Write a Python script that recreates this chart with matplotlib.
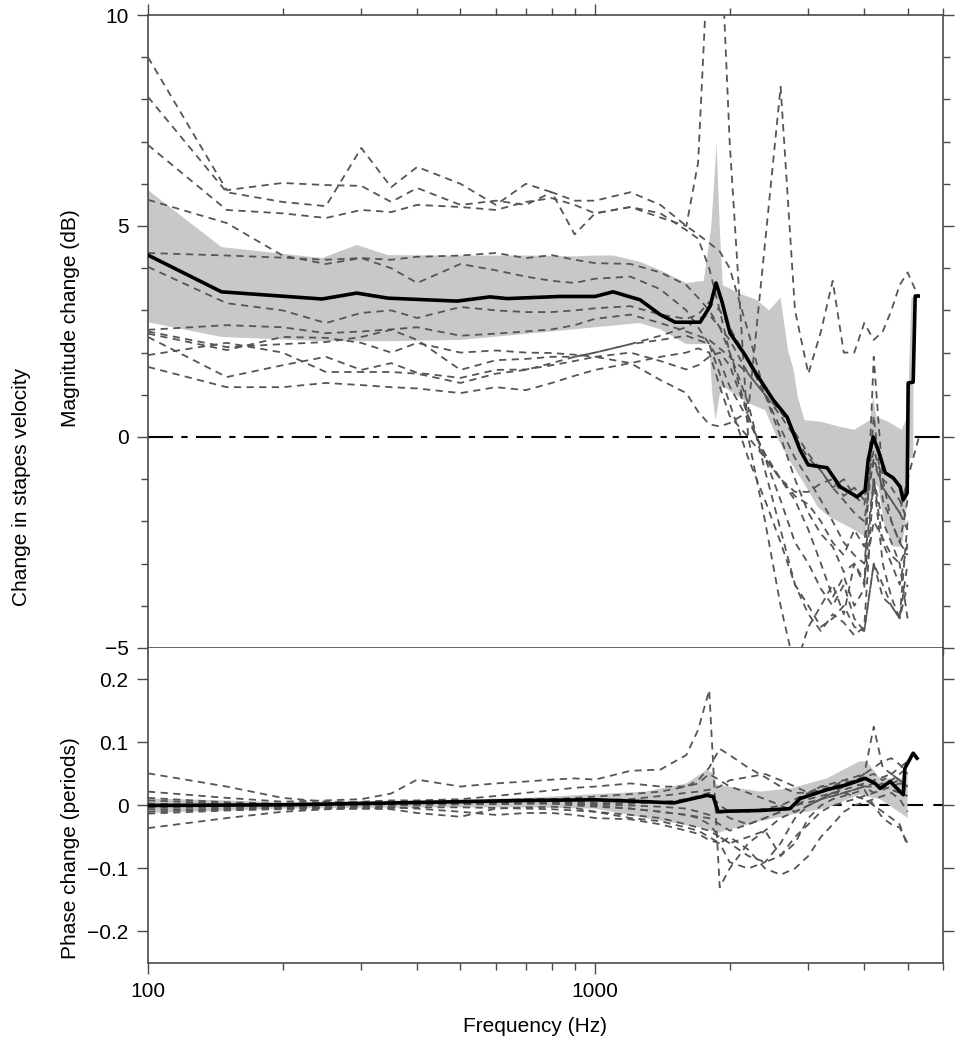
import matplotlib
matplotlib.use("Agg")
import matplotlib.pyplot as plt
import numpy as np
from matplotlib.ticker import FixedLocator, NullFormatter, FuncFormatter

plt.rcParams['font.family'] = ['Liberation Sans', 'DejaVu Sans']
plt.rcParams['font.size'] = 15

# frequency grid of the individual ears (Hz)
freq = [100, 150, 200, 250, 300, 350, 400, 500, 600, 700, 800, 900, 1000, 1200,
        1400, 1600, 1700, 1800, 1900, 2000, 2200, 2400, 2600, 2800, 3000, 3200,
        3400, 3600, 3800, 4000, 4200, 4400, 4600, 4800, 5000, 5300]
nan = np.nan

# magnitude change of each ear (dB)
mag_a = [9.0, 5.85, 6.02, 5.97, 5.95, 5.57, 5.9, 5.5, 5.6, 5.5, 5.8, 5.6, 5.6, 5.8, 5.5, 5.0, 4.8, 4.6,
         4.4, 4.0, 2.5, 1.0, 0.0, -1.0, -1.8, -2.3, -2.6, -3.2, -3.0, -3.4, -2.0, -2.4, -2.8, -3.0, -2.6, nan]
mag_b = [8.06, 5.8, 5.57, 5.47, 6.85, 5.92, 6.4, 6.0, 5.5, 6.0, 5.8, 4.8, 5.3, 5.45, 5.2, 5.0, 6.5, 12.0,
         12.5, 7.0, 0.0, -2.0, -4.0, -5.5, -4.5, -4.0, -3.5, -4.2, -3.0, -3.5, -1.0, -2.5, -3.0, -3.5, -2.5, nan]
mag_c = [6.92, 5.38, 5.3, 5.19, 5.38, 5.33, 5.5, 5.45, 5.38, 5.57, 5.66, 5.5, 5.3, 5.45, 5.3, 4.9, 4.7, 4.0,
         3.0, 2.0, 0.5, -0.5, -1.5, -2.5, -3.0, -3.6, -4.0, -3.5, -4.3, -4.6, -3.0, -3.8, -4.0, -4.3, -2.0, nan]
mag_d = [5.62, 5.07, 4.3, 4.1, 4.24, 4.0, 3.65, 4.1, 3.95, 3.8, 3.7, 3.65, 3.75, 3.8, 3.5, 3.0, 2.6, 2.2,
         1.8, 1.2, 0.4, -0.4, -1.0, -1.5, -2.2, -3.0, -3.8, -3.3, -4.0, -3.6, 1.9, -1.0, -2.0, -2.5, -1.5, nan]
mag_e = [4.36, 4.3, 4.25, 4.2, 4.24, 4.2, 4.27, 4.3, 4.36, 4.24, 4.31, 4.2, 4.12, 4.1, 3.9, 3.6, 3.3, 3.0,
         2.6, 2.3, 1.5, 1.0, 0.5, 0.0, -0.5, -0.8, -1.2, -1.5, -1.8, -2.0, -0.5, -1.2, -1.5, -1.8, -1.0, 0.0]
mag_f = [4.03, 3.17, 3.0, 2.7, 2.94, 3.0, 2.82, 3.08, 3.0, 2.96, 2.96, 3.0, 3.05, 3.1, 2.9, 2.8, 2.9, 3.2,
         3.0, 2.6, 1.8, 1.0, 0.2, -0.5, -1.0, -1.5, -2.0, -2.5, -2.8, -3.0, -1.0, -2.0, -2.5, -3.0, -4.3, nan]
mag_g = [2.54, 2.65, 2.6, 2.46, 2.5, 2.55, 2.6, 2.4, 2.45, 2.5, 2.55, 2.65, 2.8, 2.9, 2.7, 2.5, 2.4, 2.3,
         2.1, 1.9, 1.5, 1.0, 0.6, 0.1, -0.4, -0.8, -1.2, -1.0, -1.4, -1.6, -0.6, -1.2, -1.5, -1.8, -2.2, nan]
mag_h = [2.5, 2.13, 2.2, 2.25, 2.37, 2.54, 2.3, 1.59, 1.82, 1.85, 1.9, 1.9, 2.0, 2.2, 2.3, 2.4, 2.3, 2.2,
         1.5, 0.8, -0.5, -1.5, -2.5, -3.5, -4.0, -4.5, -4.3, -4.0, -4.5, -4.6, -3.0, -3.5, -4.0, -4.3, -3.5, nan]
mag_i = [2.45, 2.06, 2.37, 2.35, 2.23, 2.0, 2.23, 2.0, 2.05, 2.0, 1.99, 1.95, 1.9, 2.0, 1.8, 1.6, 1.7, 1.9,
         2.0, 1.7, 0.5, -0.5, -1.0, -1.4, -1.6, -2.0, -2.5, -2.8, -2.2, -2.6, 0.5, -1.5, -2.0, -2.5, -2.8, nan]
mag_j = [2.37, 1.42, 1.7, 1.9, 1.59, 1.75, 1.52, 1.4, 1.59, 1.6, 1.7, 1.8, 1.9, 1.75, 1.35, 1.04, 0.6, 0.3,
         0.25, 0.33, 0.6, 4.6, 8.3, 3.0, 1.5, 2.5, 3.7, 2.0, 2.0, 2.7, 2.3, 2.5, 3.0, 3.6, 3.9, 3.3]
mag_k = [1.94, 2.23, 2.0, 1.54, 1.54, 1.54, 1.5, 1.28, 1.5, 1.59, 1.75, 1.9, 2.0, 2.2, 2.4, 2.6, 2.8, 2.9,
         2.6, 2.0, 0.8, -0.8, -2.2, -3.5, -4.2, -4.6, -4.2, -4.4, -4.7, -4.5, -1.0, -3.0, -3.8, -4.3, -3.0, nan]
mag_l = [1.66, 1.18, 1.18, 1.28, 1.23, 1.18, 1.15, 1.04, 1.18, 1.11, 1.28, 1.45, 1.59, 1.75, 1.9, 2.0, 2.1, 2.0,
         1.2, 0.5, 0.0, -0.5, -1.0, -1.3, -1.3, -1.1, -1.0, -1.4, -1.2, -1.5, -0.3, -1.0, -1.2, -1.5, -2.0, nan]
mag_ears = [mag_a, mag_b, mag_c, mag_d, mag_e, mag_f, mag_g, mag_h, mag_i, mag_j, mag_k, mag_l]

# mean magnitude change
mag_mean_f = [100, 146, 245, 293, 344, 491, 582, 636, 835, 1000, 1097, 1261, 1398, 1510, 1718, 1808,
              1865, 1923, 2004, 2166, 2280, 2502, 2689, 2875, 2996, 3304, 3533, 3856, 4018, 4081,
              4188, 4297, 4456, 4642, 4813, 4887, 4990, 5015, 5146, 5200, 5281]
mag_mean = [4.31, 3.44, 3.27, 3.41, 3.29, 3.22, 3.32, 3.28, 3.33, 3.33, 3.44, 3.25, 2.9, 2.72, 2.72, 3.1,
            3.65, 3.2, 2.46, 1.94, 1.54, 0.88, 0.47, -0.31, -0.66, -0.73, -1.18, -1.42, -1.26, -0.55,
            0.0, -0.31, -0.85, -0.97, -1.18, -1.49, -1.33, 1.28, 1.3, 3.34, 3.34]

# spread band of the magnitude change
mag_up_f = [100, 146, 245, 293, 344, 500, 700, 900, 1000, 1100, 1260, 1400, 1600, 1750, 1820, 1870, 1900,
            1930, 2100, 2300, 2450, 2600, 2700, 2780, 2840, 2940, 3200, 3530, 3800, 4120, 4190, 4260,
            4530, 4850, 5000, 5100, 5150]
mag_up = [5.85, 4.5, 4.24, 4.55, 4.31, 4.3, 4.3, 4.28, 4.3, 4.3, 4.15, 3.95, 3.65, 3.7, 5.0, 6.97, 5.0,
          3.6, 3.4, 3.25, 3.0, 3.3, 2.06, 1.59, 0.95, 0.4, 0.36, 0.24, 0.17, 0.4, 0.95, 0.47, 0.36, 0.17,
          0.5, 3.3, 3.3]
mag_lo_f = [100, 146, 245, 344, 500, 800, 1000, 1260, 1400, 1600, 1800, 1830, 1860, 1900, 1930, 2200,
            2400, 2550, 2720, 2930, 3150, 3350, 3560, 3800, 4020, 4080, 4150, 4200, 4300, 4430, 4640,
            4850, 4950, 5050, 5150]
mag_lo = [2.72, 2.37, 2.27, 2.27, 2.3, 2.5, 2.6, 2.7, 2.55, 2.2, 2.2, 1.0, 0.4, 1.0, 1.2, 0.8, 0.64, 0.0,
          -0.55, -1.09, -1.66, -1.9, -2.04, -2.2, -2.37, -1.8, -1.26, -1.1, -1.18, -2.04, -2.6, -2.6,
          -2.0, -0.5, -0.5]

# phase change of each ear (periods)
ph_a = [0.051, 0.03, 0.012, 0.006, 0.005, 0.005, 0.004, 0.006, 0.008, 0.01, 0.01, 0.012, 0.014, 0.018,
        0.022, 0.03, 0.04, 0.06, 0.09, 0.08, 0.06, 0.045, 0.03, 0.02, 0.02, 0.03, 0.03, 0.035, 0.04,
        0.045, 0.05, 0.04, 0.05, 0.06, 0.07, nan]
ph_b = [0.022, 0.012, 0.006, 0.008, 0.01, 0.019, 0.041, 0.03, 0.035, 0.038, 0.041, 0.043, 0.041, 0.055,
        0.057, 0.08, 0.12, 0.183, -0.13, -0.1, -0.06, -0.04, -0.02, -0.01, 0.0, 0.01, 0.015, 0.02,
        0.025, 0.03, 0.03, 0.035, 0.04, 0.05, 0.06, nan]
ph_c = [0.012, 0.005, 0.003, 0.004, 0.006, 0.008, 0.008, 0.01, 0.015, 0.02, 0.024, 0.028, 0.03, 0.035,
        0.03, 0.03, 0.035, 0.05, 0.04, 0.03, 0.02, 0.01, 0.0, -0.01, 0.0, 0.01, 0.02, 0.03, 0.04, 0.05,
        0.125, 0.06, 0.05, 0.04, 0.03, nan]
ph_d = [0.008, 0.003, 0.002, 0.003, 0.004, 0.005, 0.006, 0.005, 0.004, 0.003, 0.004, 0.005, 0.004,
        0.003, 0.005, 0.01, 0.015, 0.02, 0.0, -0.01, -0.01, -0.005, 0.0, 0.01, 0.02, 0.03, 0.035, 0.04,
        0.045, 0.05, 0.06, 0.07, 0.075, 0.065, 0.05, nan]
ph_e = [0.003, 0.0, 0.0, 0.001, 0.002, 0.003, 0.003, 0.004, 0.005, 0.006, 0.006, 0.007, 0.008, 0.01,
        0.015, 0.02, 0.022, 0.025, 0.03, 0.04, 0.045, 0.05, 0.04, 0.03, 0.02, 0.025, 0.03, 0.04, 0.035,
        0.03, 0.02, 0.03, 0.035, 0.04, 0.02, nan]
ph_f = [0.0, -0.003, -0.002, 0.0, 0.0, 0.0, 0.001, 0.002, 0.002, 0.003, 0.003, 0.002, 0.0, -0.005,
        -0.01, -0.015, -0.02, -0.03, -0.05, -0.06, -0.05, -0.04, -0.08, -0.06, -0.02, 0.0, 0.01, 0.015,
        0.02, 0.025, 0.0, -0.02, -0.03, -0.035, -0.06, nan]
ph_g = [-0.003, -0.004, -0.003, -0.002, -0.001, 0.0, 0.001, 0.002, 0.003, 0.004, 0.004, 0.003, 0.002,
        0.0, -0.002, -0.005, -0.01, -0.015, -0.01, -0.02, -0.03, -0.02, -0.01, 0.0, 0.01, 0.015, 0.02,
        0.025, 0.03, 0.035, 0.04, 0.045, 0.05, 0.04, 0.03, nan]
ph_h = [-0.006, -0.007, -0.006, -0.005, -0.004, -0.003, -0.005, -0.01, -0.015, -0.012, -0.012, -0.015,
        -0.02, -0.022, -0.03, -0.04, -0.045, -0.055, -0.06, -0.09, -0.1, -0.09, -0.06, -0.02, 0.0, 0.01,
        0.015, 0.02, 0.025, 0.03, 0.035, 0.03, 0.025, 0.02, 0.015, nan]
ph_i = [-0.01, -0.005, -0.003, -0.004, -0.005, -0.006, -0.012, -0.018, -0.005, -0.003, -0.002, -0.004,
        -0.01, -0.02, -0.025, -0.035, -0.04, -0.05, -0.06, -0.05, -0.07, -0.1, -0.11, -0.1, -0.08,
        -0.05, -0.03, -0.01, 0.0, 0.005, 0.01, 0.015, 0.02, 0.01, -0.01, nan]
ph_j = [-0.013, -0.008, -0.005, -0.003, -0.002, 0.0, 0.002, 0.003, 0.004, 0.004, 0.003, 0.0, -0.002,
        -0.005, -0.01, -0.015, -0.018, -0.02, -0.03, -0.04, -0.03, -0.02, -0.01, 0.0, 0.005, 0.01, 0.02,
        0.02, 0.015, 0.01, 0.0, -0.01, -0.02, -0.03, -0.065, nan]
ph_k = [-0.036, -0.02, -0.01, -0.006, -0.005, -0.004, -0.003, -0.003, -0.004, -0.005, -0.006, -0.008,
        -0.01, -0.015, -0.02, -0.03, -0.035, -0.04, -0.05, -0.06, -0.08, -0.09, -0.08, -0.05, -0.03,
        -0.01, 0.0, 0.005, 0.01, 0.015, 0.02, 0.025, 0.03, 0.035, 0.03, nan]
ph_ears = [ph_a, ph_b, ph_c, ph_d, ph_e, ph_f, ph_g, ph_h, ph_i, ph_j, ph_k]

# mean phase change
ph_mean_f = [100, 200, 300, 500, 700, 1000, 1300, 1500, 1780, 1837, 1885, 2000, 2340, 2730, 2875, 3300,
             3660, 4020, 4230, 4340, 4570, 4890, 4930, 5146, 5250]
ph_mean = [0.0, 0.001, 0.003, 0.006, 0.008, 0.009, 0.006, 0.004, 0.016, 0.014, -0.01, -0.009, -0.008,
           -0.005, 0.011, 0.025, 0.033, 0.043, 0.035, 0.027, 0.038, 0.017, 0.059, 0.083, 0.075]

# spread band of the phase change
ph_up_f = [100, 150, 200, 400, 700, 1000, 1300, 1600, 1780, 1840, 1870, 2340, 2730, 3300, 3900, 4050,
           4340, 4890, 5000]
ph_up = [0.011, 0.008, 0.005, 0.008, 0.012, 0.018, 0.022, 0.035, 0.057, 0.05, 0.033, 0.022, 0.027,
         0.043, 0.07, 0.07, 0.043, 0.043, 0.05]
ph_lo_f = [100, 150, 200, 400, 700, 1000, 1300, 1780, 1870, 2340, 2730, 3300, 3900, 4340, 4890, 5000]
ph_lo = [-0.012, -0.008, -0.005, -0.003, -0.003, -0.005, -0.02, -0.037, -0.044, -0.025, -0.015, -0.004,
         0.017, 0.01, -0.015, -0.02]

ear_col = '#555555'
band_col = '#c8c8c8'
spine_col = '#4a4a4a'

fig = plt.figure(figsize=(9.59, 10.5), dpi=100)
ax1 = fig.add_axes([0.1543, 0.3829, 0.8290, 0.6028])
ax2 = fig.add_axes([0.1543, 0.0829, 0.8290, 0.3000])


def style(ax):
    ax.set_xscale('log')
    ax.set_xlim(100, 6000)
    ax.xaxis.set_major_locator(FixedLocator([100, 1000]))
    ax.xaxis.set_minor_locator(FixedLocator([200, 300, 400, 500, 600, 700, 800, 900,
                                             2000, 3000, 4000, 5000, 6000]))
    ax.xaxis.set_minor_formatter(NullFormatter())
    for s in ax.spines.values():
        s.set_color(spine_col)
        s.set_linewidth(1.2)
    ax.tick_params(which='both', direction='out', color=spine_col, width=1.0,
                   top=True, right=True, labelsize=15, pad=6)
    ax.tick_params(which='major', length=8)
    ax.tick_params(which='minor', length=5)


# --- magnitude panel
style(ax1)
ax1.axhline(0, color='black', lw=1.5, dashes=(12, 4, 3, 4), zorder=1)
ax1.fill(np.concatenate([mag_up_f, mag_lo_f[::-1]]), np.concatenate([mag_up, mag_lo[::-1]]),
         color=band_col, lw=0, zorder=2)
for m in mag_ears:
    ax1.plot(freq, m, color=ear_col, lw=1.3, dashes=(4, 3), zorder=3)
ax1.plot(mag_mean_f, mag_mean, color='black', lw=2.6, zorder=4)
ax1.set_ylim(-5, 10)
ax1.yaxis.set_major_locator(FixedLocator([-5, 0, 5, 10]))
ax1.yaxis.set_minor_locator(FixedLocator(np.arange(-5, 11)))
ax1.yaxis.set_major_formatter(FuncFormatter(lambda v, p: ('%g' % v).replace('-', '\u2212')))
ax1.tick_params(axis='x', which='both', labelbottom=False)

# --- phase panel
style(ax2)
ax2.axhline(0, color='black', lw=1.5, dashes=(8, 5), zorder=1)
ax2.fill(np.concatenate([ph_up_f, ph_lo_f[::-1]]), np.concatenate([ph_up, ph_lo[::-1]]),
         color=band_col, lw=0, zorder=2)
for p in ph_ears:
    ax2.plot(freq, p, color=ear_col, lw=1.3, dashes=(4, 3), zorder=3)
ax2.plot(ph_mean_f, ph_mean, color='black', lw=2.6, zorder=4)
ax2.set_ylim(-0.25, 0.25)
ax2.yaxis.set_major_locator(FixedLocator([-0.2, -0.1, 0, 0.1, 0.2]))
ax2.yaxis.set_minor_locator(FixedLocator([]))
ax2.yaxis.set_major_formatter(FuncFormatter(lambda v, p: ('%g' % round(v, 2)).replace('-', '\u2212')))
ax2.xaxis.set_major_formatter(FuncFormatter(lambda v, p: '%d' % v))
ax2.tick_params(which='both', top=False)
ax2.spines['top'].set_visible(False)

fig.text(0.074, 0.697, 'Magnitude change (dB)', rotation=90, ha='center', va='center', fontsize=15)
fig.text(0.074, 0.192, 'Phase change (periods)', rotation=90, ha='center', va='center', fontsize=15)
fig.text(0.022, 0.536, 'Change in stapes velocity', rotation=90, ha='center', va='center', fontsize=15)
fig.text(0.558, 0.022, 'Frequency (Hz)', ha='center', va='center', fontsize=15)

fig.savefig('out.png', dpi=100)
